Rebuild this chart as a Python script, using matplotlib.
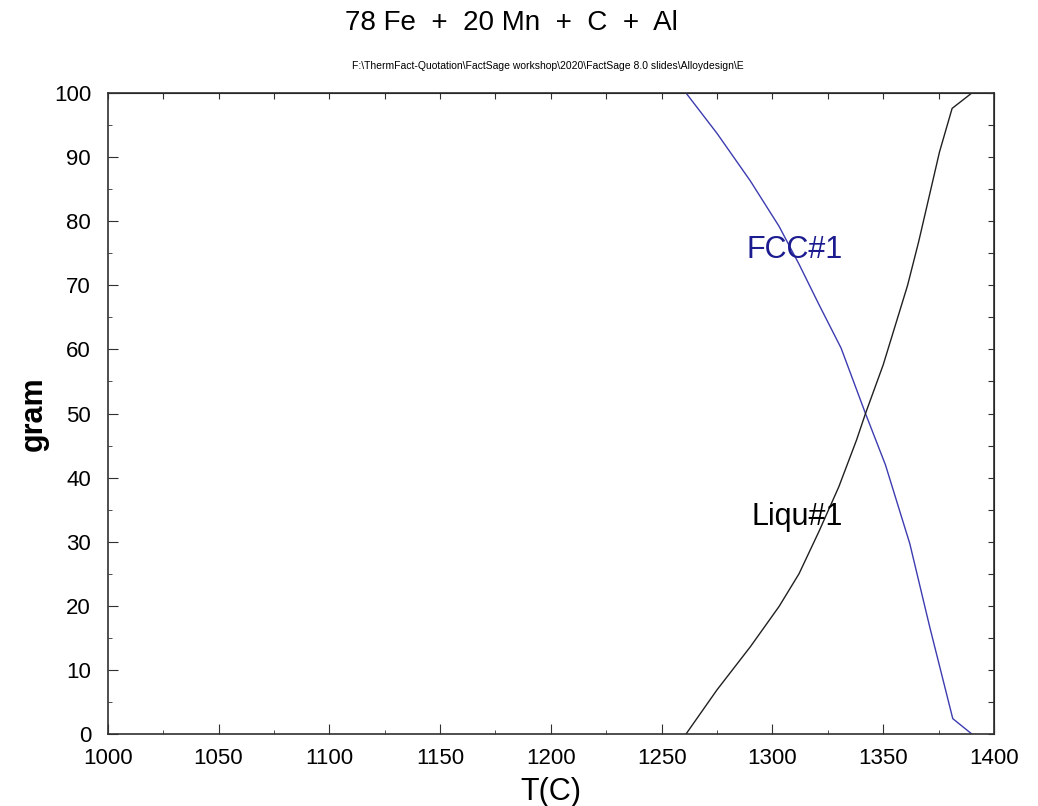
import matplotlib
matplotlib.use("Agg")
import matplotlib.pyplot as plt
from matplotlib.ticker import MultipleLocator, NullFormatter

plt.rcParams["font.family"] = ["Liberation Sans", "DejaVu Sans"]

# temperature (C) and phase amounts (gram)
temp_fcc = [1261, 1275, 1290, 1303, 1312, 1321, 1331, 1342, 1351, 1362, 1371, 1381.4, 1390]
fcc = [100, 93.7, 86.3, 79.2, 73.3, 67, 60.2, 50, 42, 29.7, 16.7, 2.4, 0]

temp_liq = [1261, 1275, 1290, 1303, 1312, 1321, 1330, 1338, 1342, 1350, 1361, 1366, 1375.4, 1381.1, 1390]
liq = [0, 6.9, 13.6, 19.9, 25.0, 31.6, 38.6, 45.9, 50, 57.6, 70, 76.8, 90.8, 97.6, 100]

fig = plt.figure(figsize=(10.38, 8.06), dpi=100)
ax = fig.add_axes([0.1038, 0.0893, 0.8538, 0.7953])

ax.plot(temp_fcc, fcc, color="#3c3cb0", lw=1.0)
ax.plot(temp_liq, liq, color="#202020", lw=1.0)

ax.text(1310, 75.5, "FCC#1", color="#1c1c90", fontsize=22, ha="center", va="center")
ax.text(1311, 33.8, "Liqu#1", color="black", fontsize=22, ha="center", va="center")

ax.set_xlim(1000, 1400)
ax.set_ylim(0, 100)
ax.xaxis.set_major_locator(MultipleLocator(50))
ax.xaxis.set_minor_locator(MultipleLocator(25))
ax.yaxis.set_major_locator(MultipleLocator(10))
ax.yaxis.set_minor_locator(MultipleLocator(5))
ax.tick_params(which="both", direction="in", labelsize=16, color="#303030")
ax.tick_params(which="major", length=7)
ax.tick_params(which="minor", length=3)
ax.tick_params(axis="x", pad=10)
ax.tick_params(axis="y", pad=12)
for s in ax.spines.values():
    s.set_color("#303030")
    s.set_linewidth(1.2)

# top / right: short even ticks, no labels
top = ax.secondary_xaxis("top")
top.xaxis.set_major_locator(MultipleLocator(25))
top.xaxis.set_major_formatter(NullFormatter())
top.tick_params(direction="in", length=4, color="#303030")
right = ax.secondary_yaxis("right")
right.yaxis.set_major_locator(MultipleLocator(5))
right.yaxis.set_major_formatter(NullFormatter())
right.tick_params(direction="in", length=4, color="#303030")

ax.set_xlabel("T(C)", fontsize=22, labelpad=6)
ax.set_ylabel("gram", fontsize=22, fontweight="bold", labelpad=4)

fig.text(0.493, 0.972, "78 Fe  +  20 Mn  +  C  +  Al", fontsize=20, ha="center", va="center")
fig.text(0.528, 0.918, r"F:\ThermFact-Quotation\FactSage workshop\2020\FactSage 8.0 slides\Alloydesign\E",
         fontsize=7.5, ha="center", va="center")

fig.savefig("out.png", dpi=100)
